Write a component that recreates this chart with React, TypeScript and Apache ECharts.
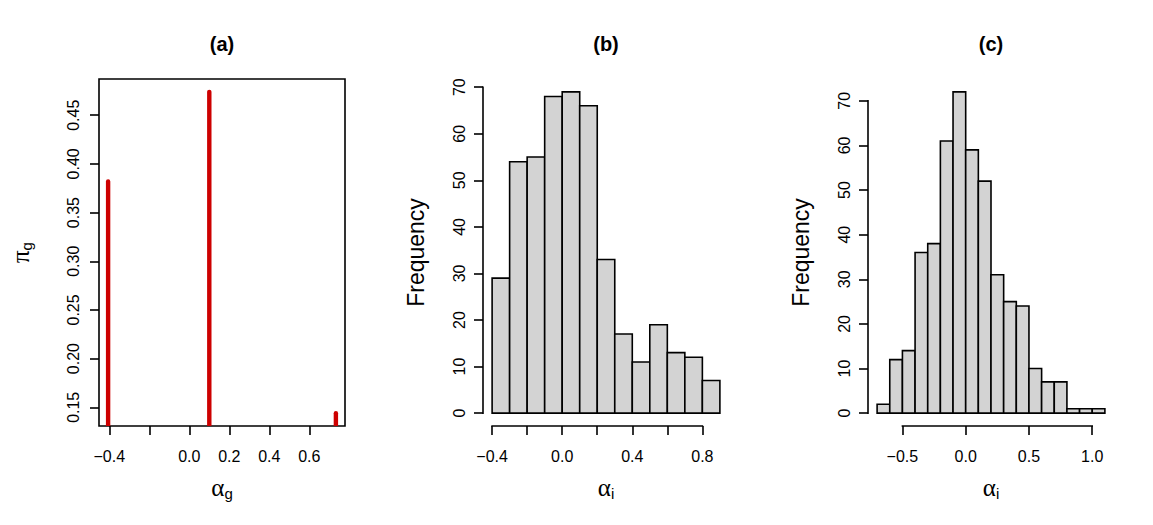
import React, { useEffect, useRef } from "react";
import * as echarts from "echarts";

// (a) mixing locations and weights of the fitted groups
const groupLocation = [-0.406, 0.1, 0.733];
const groupWeight = [0.382, 0.474, 0.144];

// (b) histogram of individual effects
const histBEdges = [-0.4, -0.3, -0.2, -0.1, 0.0, 0.1, 0.2, 0.3, 0.4, 0.5, 0.6, 0.7, 0.8, 0.9];
const histBCounts = [29, 54, 55, 68, 69, 66, 33, 17, 11, 19, 13, 12, 7];

// (c) histogram of individual effects
const histCEdges = [-0.7, -0.6, -0.5, -0.4, -0.3, -0.2, -0.1, 0.0, 0.1, 0.2, 0.3, 0.4, 0.5, 0.6, 0.7, 0.8, 0.9, 1.0, 1.1];
const histCCounts = [2, 12, 14, 36, 38, 61, 72, 59, 52, 31, 25, 24, 10, 7, 7, 1, 1, 1];

// tick positions and labelled ticks
const ticksAX = [-0.4, -0.2, 0.0, 0.2, 0.4, 0.6];
const labelsAX = [-0.4, 0.0, 0.2, 0.4, 0.6];
const ticksAY = [0.15, 0.2, 0.25, 0.3, 0.35, 0.4, 0.45];
const ticksBX = [-0.4, -0.2, 0.0, 0.2, 0.4, 0.6, 0.8];
const labelsBX = [-0.4, 0.0, 0.4, 0.8];
const ticksBY = [0, 10, 20, 30, 40, 50, 60, 70];
const ticksCX = [-0.5, 0.0, 0.5, 1.0];
const labelsCX = [-0.5, 0.0, 0.5, 1.0];
const ticksCY = [0, 10, 20, 30, 40, 50, 60, 70];

const FONT = "'Liberation Sans', Arial, Helvetica, sans-serif";
const GREEK = "'Liberation Serif', 'DejaVu Serif', serif";

// R-style 4% padding of a data range
const pad = (lo: number, hi: number): [number, number] => {
  const d = (hi - lo) * 0.04;
  return [lo - d, hi + d];
};

const fmt = (digits: number) => (v: number) => {
  const s = Math.abs(v).toFixed(digits);
  return v < -1e-9 ? "\u2212" + s : s;
};

const PANEL_W = 246;
const PANEL_H = 347;
const TOP = 79;
const LEFTS = [99, 483, 868];

const tickStyle = { show: true, length: 9, lineStyle: { color: "#000", width: 1.6 } };
const labelBase = { color: "#000", fontSize: 16, fontFamily: FONT };

export default function App() {
  const ref = useRef<HTMLDivElement>(null);

  useEffect(() => {
    if (!ref.current) return;
    const chart = echarts.init(ref.current, undefined, { renderer: "svg" });

    const [axMin, axMax] = pad(Math.min(...groupLocation), Math.max(...groupLocation));
    const [ayMin, ayMax] = pad(Math.min(...groupWeight), Math.max(...groupWeight));
    const [bxMin, bxMax] = pad(histBEdges[0], histBEdges[histBEdges.length - 1]);
    const [byMin, byMax] = pad(0, Math.max(...histBCounts));
    const [cxMin, cxMax] = pad(histCEdges[0], histCEdges[histCEdges.length - 1]);
    const [cyMin, cyMax] = pad(0, Math.max(...histCCounts));

    const spikes = groupLocation.map((x, i) => [x, groupWeight[i]]);
    const binsB = histBCounts.map((c, i) => [histBEdges[i], histBEdges[i + 1], c]);
    const binsC = histCCounts.map((c, i) => [histCEdges[i], histCEdges[i + 1], c]);

    const histRender = (params: any, api: any) => {
      const p0 = api.coord([api.value(0), api.value(2)]);
      const p1 = api.coord([api.value(1), 0]);
      return {
        type: "rect",
        shape: { x: p0[0], y: p0[1], width: p1[0] - p0[0], height: p1[1] - p0[1] },
        style: { fill: "#D3D3D3", stroke: "#000", lineWidth: 1.6 },
      };
    };

    // R draws axis lines only between the first and last tick
    const axisRender = (xTicks: number[], yTicks: number[], xMin: number, yMin: number) =>
      (params: any, api: any) => {
        const xa = api.coord([xTicks[0], yMin]);
        const xb = api.coord([xTicks[xTicks.length - 1], yMin]);
        const ya = api.coord([xMin, yTicks[0]]);
        const yb = api.coord([xMin, yTicks[yTicks.length - 1]]);
        const st = { stroke: "#000", lineWidth: 1.6, lineCap: "square" };
        return {
          type: "group",
          children: [
            { type: "line", shape: { x1: xa[0], y1: xa[1], x2: xb[0], y2: xb[1] }, style: st },
            { type: "line", shape: { x1: ya[0], y1: ya[1], x2: yb[0], y2: yb[1] }, style: st },
          ],
        };
      };

    const alphaName = (sub: string) => ({
      name: `{a|\u03b1}{s|${sub}}`,
      nameLocation: "middle",
      nameGap: 48,
      nameTextStyle: {
        rich: {
          a: { fontSize: 25, fontFamily: GREEK, color: "#000", lineHeight: 26 },
          s: { fontSize: 15, fontFamily: FONT, color: "#000", lineHeight: 15, padding: [12, 0, 0, 0] },
        },
      },
    });

    const freqName = {
      name: "Frequency",
      nameLocation: "middle",
      nameGap: 56,
      nameTextStyle: { fontSize: 23, fontFamily: FONT, color: "#000" },
    };

    const xAxisCommon = (gridIndex: number, min: number, max: number, ticks: number[], labels: number[], digits: number) => ({
      type: "value",
      gridIndex,
      min,
      max,
      splitLine: { show: false },
      axisLine: { show: false, onZero: false },
      axisTick: { ...tickStyle, customValues: ticks },
      axisLabel: { ...labelBase, customValues: labels, margin: 22, formatter: fmt(digits), hideOverlap: false },
    });

    const yAxisCommon = (gridIndex: number, min: number, max: number, ticks: number[], digits: number, margin: number) => ({
      type: "value",
      gridIndex,
      min,
      max,
      splitLine: { show: false },
      axisLine: { show: false, onZero: false },
      axisTick: { ...tickStyle, customValues: ticks },
      axisLabel: { ...labelBase, customValues: ticks, rotate: 90, margin, formatter: fmt(digits), hideOverlap: false },
    });

    const titles = ["(a)", "(b)", "(c)"].map((t, i) => ({
      type: "text",
      x: LEFTS[i] + PANEL_W / 2,
      y: 44,
      style: {
        text: t,
        fill: "#000",
        font: `bold 20px ${FONT}`,
        textAlign: "center",
        textVerticalAlign: "middle",
      },
    }));

    chart.setOption({
      animation: false,
      backgroundColor: "#fff",
      graphic: titles,
      grid: LEFTS.map((left, i) => ({
        left,
        top: TOP,
        width: PANEL_W,
        height: PANEL_H,
        show: i === 0,
        borderColor: "#000",
        borderWidth: 1.6,
        backgroundColor: "transparent",
      })),
      xAxis: [
        { ...xAxisCommon(0, axMin, axMax, ticksAX, labelsAX, 1), ...alphaName("g") },
        { ...xAxisCommon(1, bxMin, bxMax, ticksBX, labelsBX, 1), ...alphaName("i") },
        { ...xAxisCommon(2, cxMin, cxMax, ticksCX, labelsCX, 1), ...alphaName("i") },
      ],
      yAxis: [
        {
          ...yAxisCommon(0, ayMin, ayMax, ticksAY, 2, 18),
          name: "{p|\u03c0}{s|g}",
          nameLocation: "middle",
          nameGap: 66,
          nameTextStyle: {
            rich: {
              p: { fontSize: 25, fontFamily: GREEK, color: "#000", lineHeight: 26 },
              s: { fontSize: 15, fontFamily: FONT, color: "#000", lineHeight: 15, padding: [12, 0, 0, 0] },
            },
          },
        },
        { ...yAxisCommon(1, byMin, byMax, ticksBY, 0, 16), ...freqName },
        { ...yAxisCommon(2, cyMin, cyMax, ticksCY, 0, 16), ...freqName },
      ],
      series: [
        {
          type: "custom",
          xAxisIndex: 0,
          yAxisIndex: 0,
          clip: true,
          data: spikes,
          encode: { x: 0, y: 1 },
          renderItem: (params: any, api: any) => {
            const top = api.coord([api.value(0), api.value(1)]);
            const bot = api.coord([api.value(0), 0]);
            return {
              type: "line",
              shape: { x1: top[0], y1: top[1], x2: bot[0], y2: bot[1] },
              style: { stroke: "#CD0000", lineWidth: 4.4, lineCap: "round" },
            };
          },
        },
        {
          type: "custom",
          xAxisIndex: 1,
          yAxisIndex: 1,
          data: binsB,
          encode: { x: [0, 1], y: 2 },
          renderItem: histRender,
        },
        {
          type: "custom",
          xAxisIndex: 1,
          yAxisIndex: 1,
          silent: true,
          data: [[0, 0]],
          renderItem: axisRender(ticksBX, ticksBY, bxMin, byMin),
        },
        {
          type: "custom",
          xAxisIndex: 2,
          yAxisIndex: 2,
          data: binsC,
          encode: { x: [0, 1], y: 2 },
          renderItem: histRender,
        },
        {
          type: "custom",
          xAxisIndex: 2,
          yAxisIndex: 2,
          silent: true,
          data: [[0, 0]],
          renderItem: axisRender(ticksCX, ticksCY, cxMin, cyMin),
        },
      ],
    });

    return () => chart.dispose();
  }, []);

  return (
    <div
      ref={ref}
      style={{ position: "absolute", left: 0, top: 0, width: 1153, height: 525, background: "#fff" }}
    />
  );
}
